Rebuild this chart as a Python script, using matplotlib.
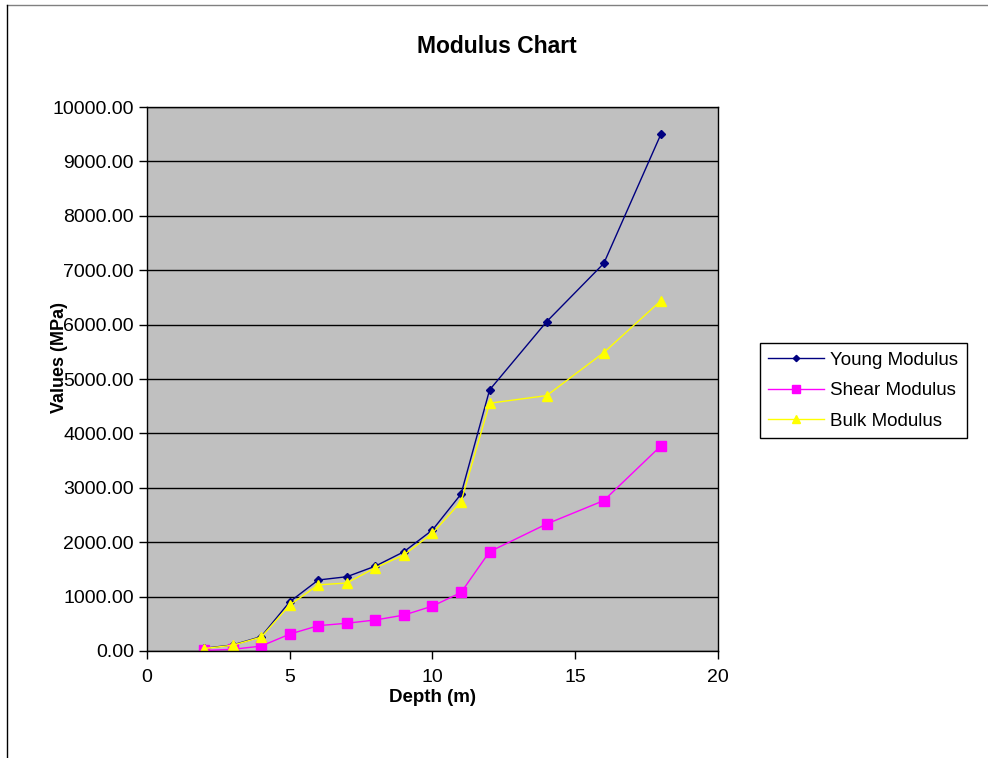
import matplotlib.pyplot as plt
from matplotlib.lines import Line2D

depth = [2, 3, 4, 5, 6, 7, 8, 9, 10, 11, 12, 14, 16, 18]
young = [50, 110, 265, 905, 1305, 1365, 1560, 1825, 2225, 2885, 4800, 6055, 7125, 9500]
shear = [10, 30, 90, 310, 465, 510, 570, 660, 825, 1075, 1825, 2335, 2765, 3770]
bulk = [45, 105, 255, 845, 1215, 1250, 1530, 1765, 2165, 2745, 4555, 4695, 5485, 6440]
yticks = list(range(0, 10001, 1000))
xticks = [0, 5, 10, 15, 20]

plt.rcParams['font.family'] = ['Liberation Sans', 'DejaVu Sans']

fig = plt.figure(figsize=(9.88, 7.58), dpi=100)
ax = fig.add_axes([0.1488, 0.1412, 0.5779, 0.7176])
ax.set_facecolor('#c0c0c0')

ax.plot(depth, young, color='#000080', lw=1, marker='D', ms=4, label='Young Modulus')
ax.plot(depth, shear, color='#ff00ff', lw=1, marker='s', ms=6.5, label='Shear Modulus')
ax.plot(depth, bulk, color='#ffff00', lw=1, marker='^', ms=7, label='Bulk Modulus')

ax.set_xlim(0, 20)
ax.set_ylim(0, 10000)
ax.set_xticks(xticks)
ax.set_yticks(yticks)
ax.set_yticklabels(['%.2f' % v for v in yticks])
ax.yaxis.grid(True, color='black', lw=1)
ax.set_axisbelow(True)
ax.tick_params(direction='out', length=6, width=1, labelsize=14, colors='black')
ax.tick_params(axis='x', pad=7)
for s in ax.spines.values():
    s.set_color('black')
    s.set_linewidth(1)

fig.text(0.503, 0.939, 'Modulus Chart', fontsize=16.5, fontweight='bold',
         ha='center', va='center')
ax.set_xlabel('Depth (m)', fontsize=13.5, fontweight='bold', labelpad=2)
ax.set_ylabel('Values (MPa)', fontsize=13, fontweight='bold')
ax.yaxis.set_label_coords(-0.138, 0.54)

leg = fig.legend(loc='upper left', bbox_to_anchor=(0.769, 0.5475), fontsize=13.5,
                 frameon=True, fancybox=False, edgecolor='black', framealpha=1,
                 handlelength=3.0, handletextpad=0.3, labelspacing=0.72,
                 borderpad=0.45, borderaxespad=0, markerscale=0.8)
leg.get_frame().set_linewidth(1)

# outer frame of the chart area
fig.add_artist(Line2D([0.007, 1.0], [0.994, 0.994], color='#808080', lw=1))
fig.add_artist(Line2D([0.007, 0.007], [0.0, 0.994], color='black', lw=1))

fig.savefig('out.png', dpi=100)
